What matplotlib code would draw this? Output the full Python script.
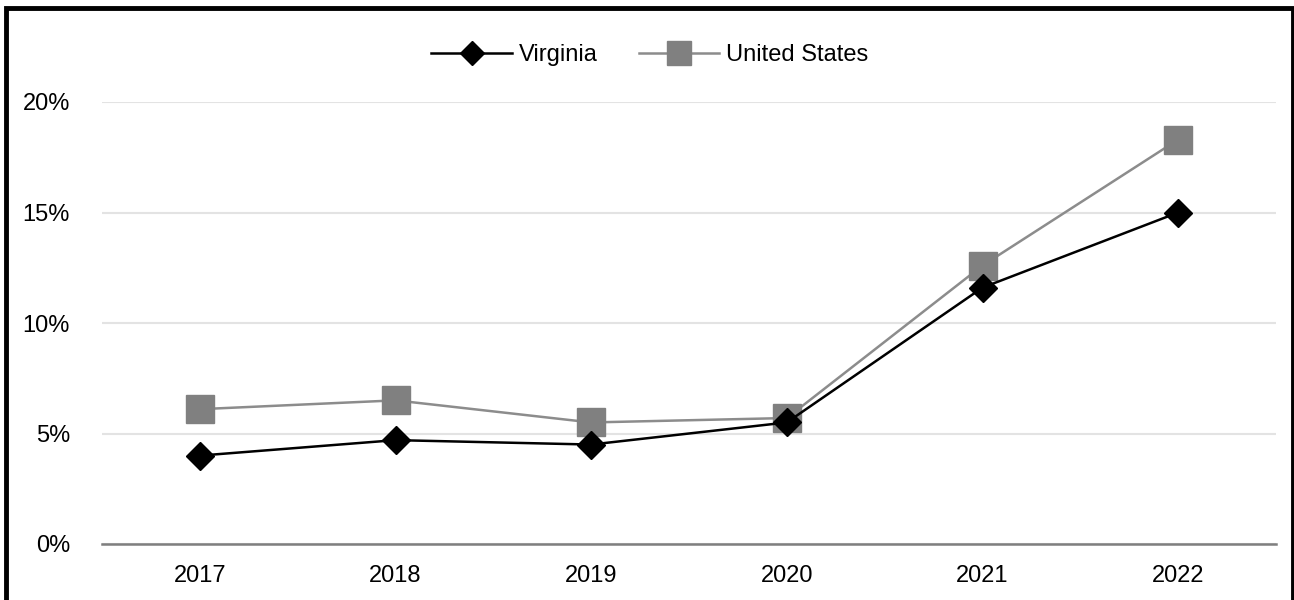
import matplotlib
matplotlib.use("Agg")
import matplotlib.pyplot as plt
from matplotlib.patches import Rectangle
from matplotlib.ticker import FuncFormatter

years = ["2017", "2018", "2019", "2020", "2021", "2022"]
virginia = [4.0, 4.7, 4.5, 5.5, 11.6, 15.0]
united_states = [6.1, 6.5, 5.5, 5.7, 12.6, 18.3]
y_ticks = [0, 5, 10, 15, 20]

plt.rcParams['font.family'] = ['Liberation Sans', 'DejaVu Sans']

W, H = 1294, 600
FS = 17
fig = plt.figure(figsize=(W / 100, H / 100), dpi=100)
ax = fig.add_axes([102 / W, 1 - 544 / H, (1276 - 102) / W, (544 - 102) / H])

x = list(range(len(years)))
ax.plot(x, united_states, color='#8c8c8c', lw=1.8, marker='s', ms=20,
        mfc='#808080', mec='#808080', label='United States', zorder=3)
ax.plot(x, virginia, color='black', lw=1.8, marker='D', ms=14,
        mfc='black', mec='black', label='Virginia', zorder=4)

ax.set_xlim(-0.5, len(years) - 0.5)
ax.set_ylim(0, 20)
ax.set_xticks(x)
ax.set_xticklabels(years)
ax.set_yticks(y_ticks)
ax.yaxis.set_major_formatter(FuncFormatter(lambda v, p: f"{v:.0f}%"))
ax.tick_params(axis='both', length=0, labelsize=FS, colors='black')
ax.tick_params(axis='x', pad=15)
ax.tick_params(axis='y', pad=23)

ax.grid(axis='y', color='#e3e3e3', lw=1.5)
ax.set_axisbelow(True)
for s in ['top', 'right', 'left']:
    ax.spines[s].set_visible(False)
ax.spines['bottom'].set_color('#7f7f7f')
ax.spines['bottom'].set_linewidth(1.8)

handles, labels = ax.get_legend_handles_labels()
leg = fig.legend(handles[::-1], labels[::-1], loc='center', ncol=2,
                 bbox_to_anchor=(650 / W, 1 - 55 / H), frameon=False,
                 fontsize=FS, handlelength=3.4, columnspacing=1.75,
                 handletextpad=0.3, markerscale=0.88)

fig.patches.append(Rectangle((5.5 / W, -0.05), (1292.5 - 5.5) / W, 1.05 - 7.5 / H,
                             transform=fig.transFigure, fill=False,
                             edgecolor='black', lw=3.5, zorder=10))

fig.savefig('out.png', dpi=100)
